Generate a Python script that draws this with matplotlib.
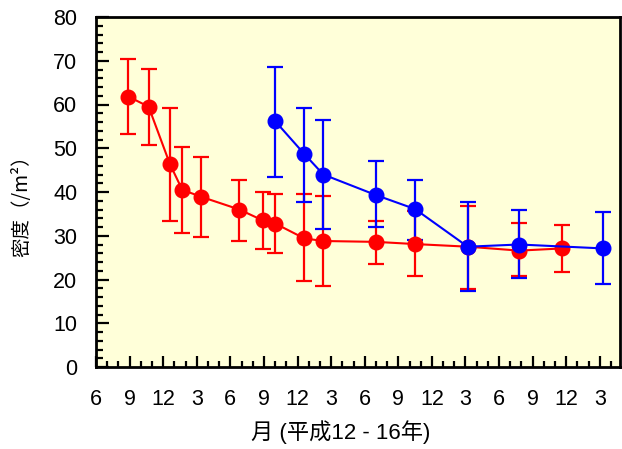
import matplotlib
matplotlib.use('Agg')
import matplotlib.pyplot as plt
from matplotlib.ticker import MultipleLocator

plt.rcParams['font.family'] = ['Liberation Sans', 'Noto Sans CJK JP', 'DejaVu Sans']

# months counted from June 2000 (0 = Jun H12)
red_month = [2.9, 4.7, 6.6, 7.7, 9.4, 12.8, 14.9, 16.0, 18.6, 20.3, 25.0, 28.5, 33.2, 37.8, 41.6]
red_val = [61.8, 59.5, 46.4, 40.5, 38.9, 36.0, 33.5, 32.8, 29.4, 28.8, 28.6, 28.1, 27.5, 26.6, 27.1]
red_hi = [70.4, 68.1, 59.3, 50.3, 48.1, 42.8, 40.0, 39.5, 39.5, 39.1, 33.4, 35.6, 36.9, 33.0, 32.5]
red_lo = [53.3, 50.7, 33.4, 30.7, 29.8, 28.9, 27.0, 26.0, 19.6, 18.6, 23.5, 20.9, 17.9, 20.8, 21.7]

blue_month = [16.0, 18.6, 20.3, 25.0, 28.5, 33.2, 37.8, 45.3]
blue_val = [56.2, 48.7, 44.0, 39.3, 36.1, 27.5, 28.0, 27.1]
blue_hi = [68.6, 59.2, 56.5, 47.1, 42.7, 37.7, 35.9, 35.5]
blue_lo = [43.4, 37.8, 31.5, 32.0, 29.0, 17.4, 20.4, 19.0]

tick_months = list(range(0, 46, 3))
tick_labels = ['6', '9', '12', '3'] * 4


def plot_data():
    fig = plt.figure(figsize=(6.22, 4.49), dpi=100)
    ax = fig.add_axes([96 / 622, 82 / 449, 524 / 622, 350 / 449])
    ax.set_facecolor('#ffffd9')

    for m, v, hi, lo, c in [(red_month, red_val, red_hi, red_lo, '#ff0000'),
                            (blue_month, blue_val, blue_hi, blue_lo, '#0000ff')]:
        err = [[a - b for a, b in zip(v, lo)], [b - a for a, b in zip(v, hi)]]
        ax.errorbar(m, v, yerr=err, fmt='-o', color=c, ms=10.5, lw=1.5,
                    elinewidth=1.6, capsize=5.5, capthick=1.6)

    ax.set_xlim(0, 46.8)
    ax.set_ylim(0, 80)
    ax.set_xticks(tick_months)
    ax.set_xticklabels(tick_labels)
    ax.xaxis.set_minor_locator(MultipleLocator(1))
    ax.yaxis.set_major_locator(MultipleLocator(10))
    ax.yaxis.set_minor_locator(MultipleLocator(2))

    ax.tick_params(which='both', direction='in', top=False, right=False, width=1.6,
                   labelsize=15.5)
    ax.tick_params(axis='y', which='major', length=9, pad=13.5)
    ax.tick_params(axis='y', which='minor', length=5)
    ax.tick_params(axis='x', which='major', length=8, pad=16)
    ax.tick_params(axis='x', which='minor', length=4)
    for s in ax.spines.values():
        s.set_linewidth(2)

    fig.text(22 / 622, 1 - 201 / 449, '密度（/m²）', rotation=90, ha='center', va='center',
             fontsize=14, family=['Noto Sans CJK JP', 'DejaVu Sans'])
    fig.text(341 / 622, 1 - 432 / 449, '月 (平成12 - 16年)', ha='center', va='center',
             fontsize=16, family=['Liberation Sans', 'Noto Sans CJK JP'])

    fig.savefig('out.png', dpi=100)


if __name__ == '__main__':
    plot_data()
